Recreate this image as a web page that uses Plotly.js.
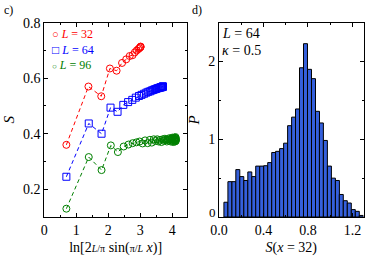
<!DOCTYPE html>
<html><head><meta charset="utf-8">
<script src="https://cdn.plot.ly/plotly-3.0.1.min.js"></script>
<style>body{margin:0;background:#fff}#c{width:374px;height:257px}</style></head>
<body><div id="c"></div><script>
// Panel c: S vs ln[2L/pi sin(pi x/L)]
const x32 = [0.69,1.38,1.78,2.05,2.26,2.43,2.56,2.67,2.76,2.83,2.89,2.94,2.97,3.00,3.01,3.01];
const s32 = [0.360,0.570,0.535,0.635,0.627,0.655,0.668,0.680,0.683,0.693,0.700,0.705,0.708,0.711,0.713,0.714];
const x64 = [0.69,1.39,1.79,2.07,2.29,2.47,2.62,2.75,2.86,2.96,3.04,3.12,3.19,3.25,3.31,3.36,3.41,3.45,3.49,3.52,3.55,3.58,3.61,3.63,3.65,3.66,3.68,3.69,3.70,3.70,3.71,3.71];
const s64 = [0.245,0.437,0.400,0.494,0.479,0.504,0.514,0.522,0.530,0.536,0.540,0.544,0.548,0.551,0.553,0.556,0.558,0.560,0.561,0.563,0.564,0.565,0.566,0.567,0.567,0.568,0.568,0.569,0.569,0.570,0.570,0.570];
const x96 = [0.69,1.39,1.79,2.08,2.30,2.48,2.63,2.76,2.88,2.98,3.07,3.15,3.23,3.30,3.36,3.42,3.47,3.53,3.57,3.62,3.66,3.70,3.73,3.77,3.80,3.83,3.86,3.88,3.91,3.93,3.95,3.97,3.99,4.00,4.02,4.03,4.05,4.06,4.07,4.08,4.09,4.09,4.10,4.10,4.11,4.11,4.11,4.11];
const s96 = [0.130,0.316,0.269,0.358,0.334,0.354,0.361,0.366,0.369,0.372,0.365,0.376,0.366,0.378,0.368,0.380,0.374,0.380,0.372,0.378,0.370,0.380,0.375,0.382,0.378,0.372,0.380,0.376,0.384,0.378,0.372,0.382,0.376,0.386,0.378,0.370,0.382,0.376,0.386,0.380,0.372,0.384,0.376,0.388,0.380,0.374,0.384,0.378];
const seriesL = ['32','64','96'];

// Panel d: histogram of S(x=32)
const binCenters = [0.062,0.098,0.134,0.169,0.205,0.241,0.277,0.313,0.348,0.384,0.420,0.456,0.492,0.527,0.563,0.599,0.635,0.671,0.706,0.742,0.778,0.814,0.850,0.886,0.921,0.957,0.993,1.029,1.065,1.100,1.136,1.172,1.208,1.244,1.280];
const binP = [0.19,0.455,0.455,0.61,0.52,0.47,0.58,0.52,0.655,0.655,0.66,0.70,0.83,0.845,0.88,0.95,1.175,1.285,1.39,1.92,2.23,1.90,1.78,1.36,1.21,0.985,0.655,0.50,0.47,0.29,0.21,0.18,0.095,0.073,0.02];
const binWidth = 0.0358;

const FONT = '"Liberation Serif", "Times New Roman", serif';
const series = [
  {x:x32, y:s32, c:'#ff0000', sym:'circle-open', glyph:'○', gs:11},
  {x:x64, y:s64, c:'#0000ff', sym:'square-open', glyph:'□', gs:12},
  {x:x96, y:s96, c:'#008000', sym:'circle-open', glyph:'○', gs:8}
];
const traces = [];
series.forEach(s => {
  traces.push({x:s.x, y:s.y, mode:'lines', line:{color:s.c, width:1, dash:'4px,3px'}, showlegend:false, hoverinfo:'skip', xaxis:'x', yaxis:'y'});
});
series.forEach((s,i) => {
  traces.push({x:s.x, y:s.y, mode:'markers', name:'L = '+seriesL[i], showlegend:false, marker:{symbol:s.sym, color:s.c, size:7, line:{width:1, color:s.c}}, xaxis:'x', yaxis:'y'});
});
traces.push({type:'bar', x:binCenters, y:binP, width:binWidth, marker:{color:'#3560dc', line:{color:'#000', width:1}}, showlegend:false, xaxis:'x2', yaxis:'y2'});

// legend as one multi-line annotation (tight spacing as in the reference)
const legendText = series.map((s,i) =>
  '<span style="color:'+s.c+'"><span style="font-size:'+s.gs+'px">'+s.glyph+'</span> <i>L</i> = '+seriesL[i]+'</span>').join('<br>');

const ax = {showline:true, linecolor:'#000', linewidth:1, mirror:'allticks', ticks:'inside', ticklen:4, tickcolor:'#000', showgrid:false, zeroline:false, tickfont:{family:FONT, size:14, color:'#000'}};
const layout = {
  width:374, height:257, margin:{l:0,r:0,t:0,b:0}, paper_bgcolor:'#fff', plot_bgcolor:'#fff',
  font:{family:FONT, color:'#000'},
  showlegend:false,
  xaxis:Object.assign({}, ax, {domain:[0.1184,0.5], range:[0,4.46], tickvals:[0,1,2,3,4], ticktext:['0','1','2','3','4'], minor:{dtick:0.5, ticks:'inside', ticklen:2, tickcolor:'#000'},
    title:{text:'ln[2<span style="font-size:10px"><i>L</i>/π</span> sin(<span style="font-size:10px">π/<i>L</i></span> <i>x</i>)]', font:{family:FONT, size:14}, standoff:5}, anchor:'y'}),
  yaxis:Object.assign({}, ax, {domain:[0.1556,0.9117], range:[0.1,0.8], tickvals:[0.2,0.4,0.6,0.8], ticktext:['0.2','0.4','0.6','0.8'], minor:{dtick:0.1, ticks:'inside', ticklen:2, tickcolor:'#000'},
    title:{text:'<i>S</i>', font:{family:FONT, size:15}, standoff:4}, anchor:'x'}),
  xaxis2:Object.assign({}, ax, {domain:[0.5856,0.972], range:[0,1.3], tickvals:[0,0.4,0.8,1.2], ticktext:['0.0','0.4','0.8','1.2'], minor:{dtick:0.2, ticks:'inside', ticklen:2, tickcolor:'#000'},
    title:{text:'<i>S</i>(<i>x</i> = 32)', font:{family:FONT, size:14}, standoff:5}, anchor:'y2'}),
  yaxis2:Object.assign({}, ax, {domain:[0.1556,0.9117], range:[0,2.5], tickvals:[1,2], ticktext:['1','2'], minor:{dtick:0.5, ticks:'inside', ticklen:2, tickcolor:'#000'},
    title:{text:'<i>P</i>', font:{family:FONT, size:15}, standoff:4}, anchor:'x2'}),
  bargap:0,
  annotations:[
    {xref:'paper', yref:'paper', x:0.005, y:0.995, xanchor:'left', yanchor:'top', text:'c)', showarrow:false, font:{family:FONT, size:12}},
    {xref:'paper', yref:'paper', x:0.507, y:0.995, xanchor:'left', yanchor:'top', text:'d)', showarrow:false, font:{family:FONT, size:12}},
    {xref:'paper', yref:'paper', x:0.589, y:0.905, xanchor:'left', yanchor:'top', text:'<i>L</i> = 64', showarrow:false, font:{family:FONT, size:14}},
    {xref:'paper', yref:'paper', x:0.589, y:0.84, xanchor:'left', yanchor:'top', text:'<i>κ</i> = 0.5', showarrow:false, font:{family:FONT, size:14}},
    {xref:'paper', yref:'paper', x:0.582, y:0.1556, xanchor:'right', yanchor:'middle', yshift:5, text:'0', showarrow:false, font:{family:FONT, size:13}},
    {xref:'paper', yref:'paper', x:0.133, y:(257-25)/257, xanchor:'left', yanchor:'top', align:'left', showarrow:false, text:legendText, font:{family:FONT, size:12}}
  ]
};
Plotly.newPlot('c', traces, layout, {displayModeBar:false, staticPlot:true});
</script></body></html>
